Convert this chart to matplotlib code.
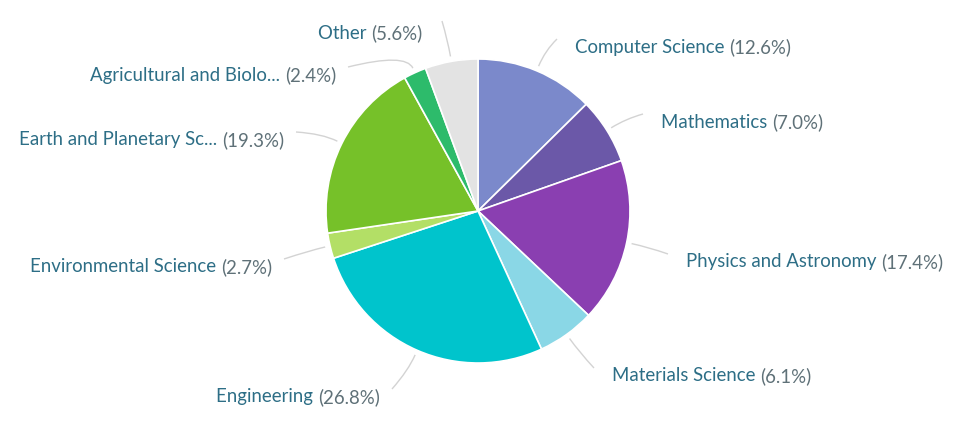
import matplotlib
matplotlib.use("Agg")
import matplotlib.pyplot as plt
import numpy as np
from matplotlib.path import Path
from matplotlib.patches import PathPatch

categories = ["Computer Science", "Mathematics", "Physics and Astronomy", "Materials Science",
              "Engineering", "Environmental Science", "Earth and Planetary Sc...",
              "Agricultural and Biolo...", "Other"]
shares = [12.6, 7.0, 17.4, 6.1, 26.8, 2.7, 19.3, 2.4, 5.6]
pct_labels = ["(12.6%)", "(7.0%)", "(17.4%)", "(6.1%)", "(26.8%)", "(2.7%)", "(19.3%)", "(2.4%)", "(5.6%)"]
colors = ["#7b89cb", "#6b58a8", "#8a3fb1", "#8ad7e6", "#00c4cc", "#b3df66", "#76c129", "#2dbb6b", "#e3e3e3"]

# label anchor positions (pixels from top-left) and alignment
label_pos = [(575, 47, "left"), (661, 122, "left"), (686, 262, "left"), (612, 376, "left"),
             (380, 397, "right"), (272, 267, "right"), (284, 140, "right"), (336, 75, "right"),
             (422, 33, "right")]

W, H = 965, 431
fig = plt.figure(figsize=(W / 100, H / 100), dpi=100)
ax = fig.add_axes([0, 0, 1, 1])

cx, cy, r = 478, H - 212, 152
wedges, _ = ax.pie(shares, colors=colors, startangle=90, counterclock=False,
                   center=(cx, cy), radius=r, frame=True,
                   wedgeprops=dict(edgecolor="white", linewidth=1.2))
ax.set_xlim(0, W)
ax.set_ylim(0, H)
ax.set_aspect("equal")
ax.axis("off")

name_color = "#2d6e86"
pct_color = "#5f7178"
font = dict(family=["Lato", "DejaVu Sans"], fontsize=13.4)

fig.canvas.draw()
renderer = fig.canvas.get_renderer()

for w, name, pct, (lx, ly, ha) in zip(wedges, categories, pct_labels, label_pos):
    mid = np.deg2rad((w.theta1 + w.theta2) / 2)
    d = np.array([np.cos(mid), np.sin(mid)])
    p0 = np.array([cx, cy]) + (r + 5) * d
    p1 = np.array([cx, cy]) + (r + 22) * d
    y = H - ly
    if ha == "left":
        p2 = np.array([lx - 18, y + 7])
    else:
        p2 = np.array([lx + 12, y + 7])
    if name == "Other":
        p2 = np.array([lx + 20, y + 11])
    path = Path([p0, p1, p2], [Path.MOVETO, Path.CURVE3, Path.CURVE3])
    ax.add_patch(PathPatch(path, facecolor="none", edgecolor="#d3d3d3", linewidth=1.0))

    if ha == "left":
        t = ax.text(lx, y, name + " ", color=name_color, ha="left", va="center", **font)
        bb = t.get_window_extent(renderer)
        ax.text(bb.x1, y, pct, color=pct_color, ha="left", va="center", **font)
    else:
        t = ax.text(lx, y, pct, color=pct_color, ha="right", va="center", **font)
        bb = t.get_window_extent(renderer)
        ax.text(bb.x0, y, name + " ", color=name_color, ha="right", va="center", **font)

fig.savefig("out.png", dpi=100, facecolor="white")
